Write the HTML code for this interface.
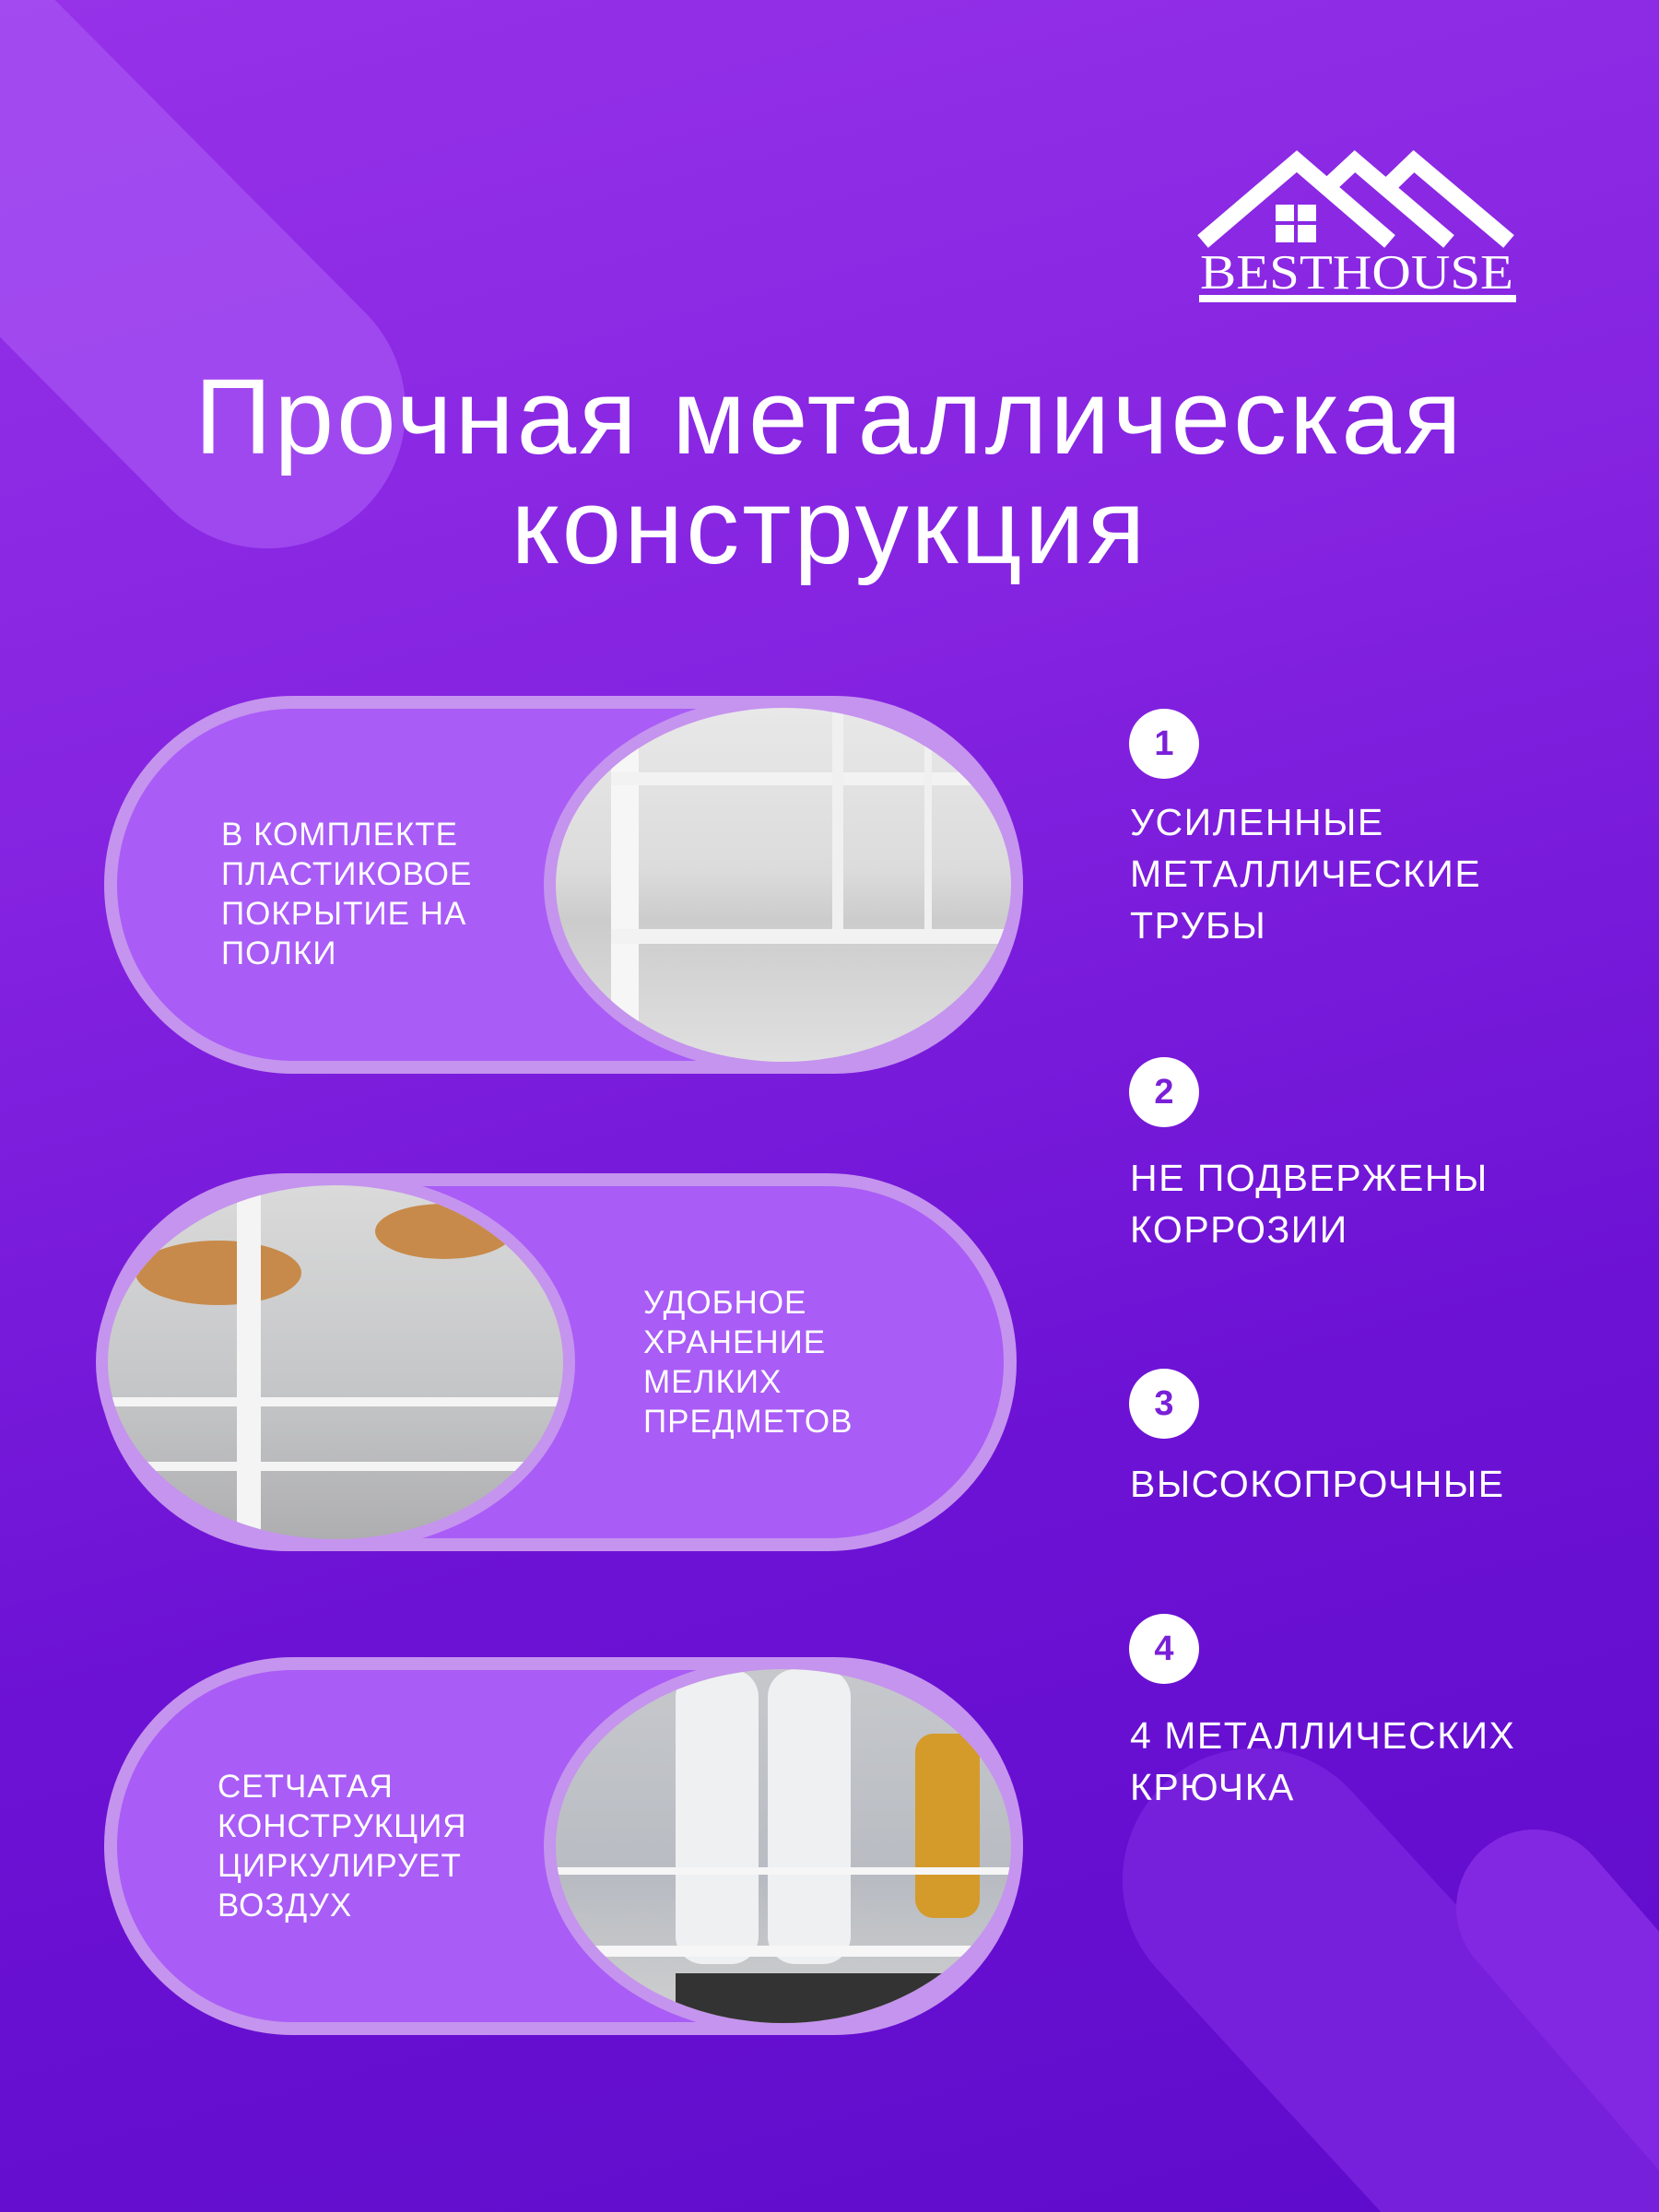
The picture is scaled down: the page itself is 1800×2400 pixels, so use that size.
<!DOCTYPE html>
<html><head><meta charset="utf-8"><style>
*{margin:0;padding:0;box-sizing:border-box}
html{width:1800px;height:2400px;overflow:hidden}
body{width:1800px;height:2400px;overflow:hidden;position:relative;font-family:"Liberation Sans","DejaVu Sans",sans-serif;color:#fff;background:linear-gradient(165deg,#9632e8 0%,#8322e0 35%,#6c12d4 65%,#5f0bcb 100%)}
.abs{position:absolute}
.title{position:absolute;left:0;width:1800px;text-align:center;font-size:116px;letter-spacing:3px;line-height:120px}
.pill{position:absolute;width:997px;height:410px;border-radius:205px;border:14px solid #c594ee;background:#a95cf6}
.img{position:absolute;top:0;height:410px;width:520px;border-radius:50%;border:13px solid #c594ee;overflow:hidden}
.ptxt{position:absolute;font-size:35px;line-height:43px;letter-spacing:1px}
.num{position:absolute;width:76px;height:76px;border-radius:50%;background:#fff;color:#7a20d8;font-weight:bold;font-size:38px;line-height:76px;text-align:center}
.item{position:absolute;left:1226px;font-size:41px;line-height:56px;letter-spacing:1.5px}
</style></head><body>
<svg class="abs" style="left:0;top:0;overflow:hidden" width="1800" height="2400">
<line x1="290" y1="445" x2="-400" y2="-250" stroke="#a855f4" stroke-opacity="0.7" stroke-width="300" stroke-linecap="round"/>
<line x1="1361" y1="2040" x2="2200" y2="2950" stroke="#7720dc" stroke-width="286" stroke-linecap="round"/>
<line x1="1665" y1="2070" x2="2300" y2="2800" stroke="#8228e2" stroke-width="170" stroke-linecap="round"/>
<g fill="none" stroke="#fff" stroke-width="18" stroke-linejoin="miter">
<polyline points="1305,262 1407,175 1508,262"/>
<polyline points="1440,203 1470,175 1572,262"/>
<polyline points="1505,203 1534,175 1637,262"/>
</g>
<rect x="1384" y="222" width="20" height="18" fill="#fff"/><rect x="1408" y="222" width="20" height="18" fill="#fff"/>
<rect x="1384" y="244" width="20" height="19" fill="#fff"/><rect x="1408" y="244" width="20" height="19" fill="#fff"/>
<text x="1472" y="313" text-anchor="middle" font-family="Liberation Serif,serif" font-size="53" fill="#fff" textLength="340" lengthAdjust="spacingAndGlyphs">BESTHOUSE</text>
<rect x="1301" y="320" width="344" height="8" fill="#fff"/>
</svg>

<div class="title" style="top:392px">Прочная металлическая</div>
<div class="title" style="top:511px">конструкция</div>

<div class="pill" style="left:113px;top:755px"></div>
<div class="img" style="left:590px;top:755px;background:linear-gradient(180deg,#e8e8e8,#dcdcdc 45%,#cccccc 60%,#e0e0e0)">
 <div class="abs" style="left:60px;top:0;width:30px;height:410px;background:#f6f6f6"></div>
 <div class="abs" style="left:60px;top:70px;width:460px;height:14px;background:#f2f2f2"></div>
 <div class="abs" style="left:60px;top:240px;width:460px;height:16px;background:#f2f2f2"></div>
 <div class="abs" style="left:300px;top:0;width:12px;height:240px;background:#f0f0f0"></div>
 <div class="abs" style="left:400px;top:0;width:8px;height:240px;background:#f0f0f0"></div>
</div>
<div class="ptxt" style="left:240px;top:884px">В КОМПЛЕКТЕ<br>ПЛАСТИКОВОЕ<br>ПОКРЫТИЕ НА<br>ПОЛКИ</div>

<div class="pill" style="left:106px;top:1273px"></div>
<div class="img" style="left:104px;top:1273px;width:520px;background:linear-gradient(180deg,#dadada,#c4c5c7 60%,#aeaeb0)">
 <div class="abs" style="left:30px;top:60px;width:180px;height:70px;border-radius:50%;background:#c78a4a"></div>
 <div class="abs" style="left:290px;top:20px;width:150px;height:60px;border-radius:50%;background:#c78a4a"></div>
 <div class="abs" style="left:140px;top:0;width:26px;height:410px;background:#f4f4f4"></div>
 <div class="abs" style="left:0;top:230px;width:520px;height:10px;background:#f4f4f4"></div>
 <div class="abs" style="left:0;top:300px;width:520px;height:10px;background:#f4f4f4"></div>
</div>
<div class="ptxt" style="left:698px;top:1392px">УДОБНОЕ<br>ХРАНЕНИЕ<br>МЕЛКИХ<br>ПРЕДМЕТОВ</div>

<div class="pill" style="left:113px;top:1798px"></div>
<div class="img" style="left:590px;top:1798px;background:linear-gradient(180deg,#c6c8cc,#b8bcc2 60%,#d0d0d0)">
 <div class="abs" style="left:130px;top:0;width:90px;height:320px;border-radius:30px;background:#eef0f2"></div>
 <div class="abs" style="left:230px;top:0;width:90px;height:320px;border-radius:30px;background:#eef0f2"></div>
 <div class="abs" style="left:390px;top:70px;width:70px;height:200px;border-radius:20px;background:#d49a2a"></div>
 <div class="abs" style="left:0;top:215px;width:520px;height:8px;background:#f6f6f6"></div>
 <div class="abs" style="left:0;top:300px;width:520px;height:12px;background:#f6f6f6"></div>
 <div class="abs" style="left:130px;top:330px;width:300px;height:60px;background:#333"></div>
</div>
<div class="ptxt" style="left:236px;top:1917px">СЕТЧАТАЯ<br>КОНСТРУКЦИЯ<br>ЦИРКУЛИРУЕТ<br>ВОЗДУХ</div>

<div class="num" style="left:1225px;top:769px">1</div>
<div class="item" style="top:864px">УСИЛЕННЫЕ<br>МЕТАЛЛИЧЕСКИЕ<br>ТРУБЫ</div>
<div class="num" style="left:1225px;top:1147px">2</div>
<div class="item" style="top:1250px">НЕ ПОДВЕРЖЕНЫ<br>КОРРОЗИИ</div>
<div class="num" style="left:1225px;top:1485px">3</div>
<div class="item" style="top:1582px">ВЫСОКОПРОЧНЫЕ</div>
<div class="num" style="left:1225px;top:1751px">4</div>
<div class="item" style="top:1855px">4 МЕТАЛЛИЧЕСКИХ<br>КРЮЧКА</div>
</body></html>
